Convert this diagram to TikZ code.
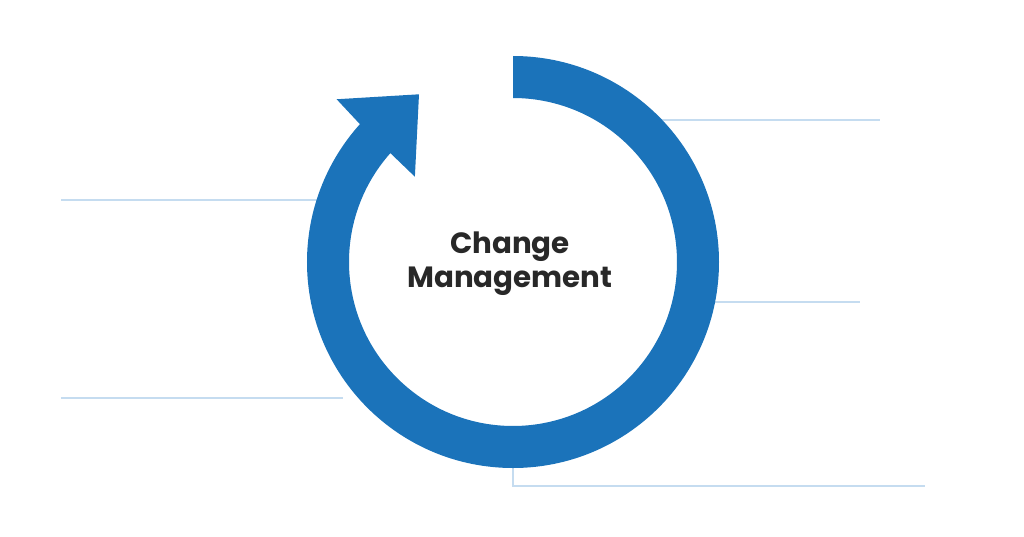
\documentclass[tikz,border=0pt]{standalone}
\usepackage{fontspec}
\setmainfont{Poppins}
\usetikzlibrary{positioning}
\definecolor{ringblue}{RGB}{27,115,186}
\definecolor{leaderblue}{RGB}{197,220,240}
\definecolor{textgrey}{RGB}{40,40,40}

\begin{document}
\begin{tikzpicture}[x=1pt,y=1pt,
		leader/.style={draw=leaderblue,line width=1.6pt},
		title/.style={align=center,text=textgrey,font=\bfseries\fontsize{29.3}{34}\selectfont}]
	\useasboundingbox (-513,-274) rectangle (511,262);
	
	% leader lines (behind the ring)
	\coordinate (a1) at (140,142);
	\coordinate (a2) at (367,142);
	\coordinate (b1) at (-190,62);
	\coordinate (b2) at (-452,62);
	\coordinate (c1) at (195,-40);
	\coordinate (c2) at (347,-40);
	\coordinate (d1) at (-170,-136);
	\coordinate (d2) at (-452,-136);
	\coordinate (e1) at (0,-200);
	\coordinate (e2) at (0,-224);
	\coordinate (e3) at (412,-224);
	
	\draw[leader] (a1) -- (a2);
	\draw[leader] (b1) -- (b2);
	\draw[leader] (c1) -- (c2);
	\draw[leader] (d2) -- (d1);
	\draw[leader] (e1) -- (e2) -- (e3);
	
	% the ring with its arrow head
	\fill[ringblue] (90:206) arc[start angle=90, end angle=-222, radius=206]
		-- (137.3:240) -- (-94,167.7) -- (139:130) -- (138.4:164)
		arc[start angle=138.4, end angle=450, radius=164] -- cycle;
	
	\node[title] (cm) at (-3,-1.5) {Change\\Management};
	
	%\node[below=of cm] {};
\end{tikzpicture}
\end{document}
